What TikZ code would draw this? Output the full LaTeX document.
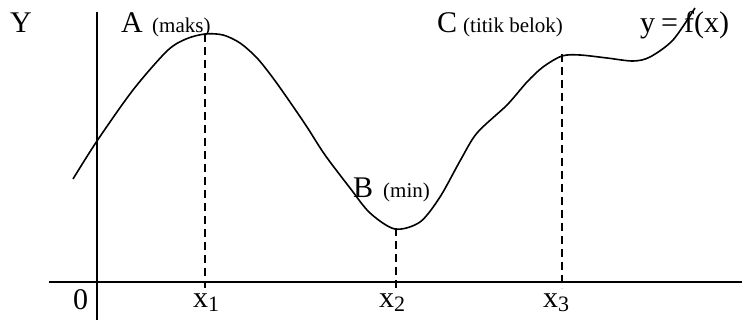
\documentclass[tikz,border=0pt]{standalone}
\usepackage{fontspec}
\setmainfont{Liberation Serif}
\begin{document}
\begin{tikzpicture}[x=1pt,y=-1pt,
  big/.style={inner sep=0pt,anchor=base west,font=\fontsize{30}{30}\selectfont},
  small/.style={inner sep=0pt,anchor=base west,font=\fontsize{21}{21}\selectfont},
  axis/.style={line width=1.6pt},
  curve/.style={line width=1.6pt},
  guide/.style={line width=1.4pt,dash pattern=on 8pt off 5pt}]
\useasboundingbox (0,0) rectangle (742,320);
% axes
\coordinate (ytop) at (97,12);
\coordinate (ybot) at (97,320);
\coordinate (xl) at (49,282);
\coordinate (xr) at (742,282);
\draw[axis] (ytop) -- (ybot);
\draw[axis] (xl) -- (xr);
% curve
\draw[curve] plot[smooth,tension=0.5] coordinates {
  (73,179) (97,141) (133,90) (167,51) (186,39) (205,34) (223,35) (240,43)
  (257,58) (273,78) (290,102) (307,127) (325,155) (350,188) (370,213)
  (395,229) (420,222) (440,197) (460,161) (477,133) (507,105)
  (527,82) (543,67) (562,56) (580,55) (607,58) (633,61) (650,57)
  (673,40) (695,8)};
% key points
\coordinate (A) at (205,34);
\coordinate (B) at (396,228);
\coordinate (C) at (562,54);
\coordinate (fA) at (205,288);
\coordinate (fB) at (396,288);
\coordinate (fC) at (562,288);
\draw[guide] (A) -- (fA);
\draw[guide] (B) -- (fB);
\draw[guide] (C) -- (fC);
% labels
\node[big] (lY) at (10,33) {Y};
\node[big] (lA) at (121,33) {A};
\node[small] (lAm) at (152,33) {(maks)};
\node[big] (lB) at (353,198) {B};
\node[small] (lBm) at (383,198) {(min)};
\node[big] (lC) at (437,33) {C};
\node[small] (lCm) at (463,33) {(titik belok)};
\node[big] (lf) at (640,33) {y\hspace{6pt}=\hspace{6pt}f(x)};
\node[big] (l0) at (73,310) {0};
\node[big] (lx1) at (193,308) {x\raisebox{-4pt}{\fontsize{22}{22}\selectfont 1}};
\node[big] (lx2) at (379,308) {x\raisebox{-4pt}{\fontsize{22}{22}\selectfont 2}};
\node[big] (lx3) at (543,308) {x\raisebox{-4pt}{\fontsize{22}{22}\selectfont 3}};
\end{tikzpicture}
\end{document}
